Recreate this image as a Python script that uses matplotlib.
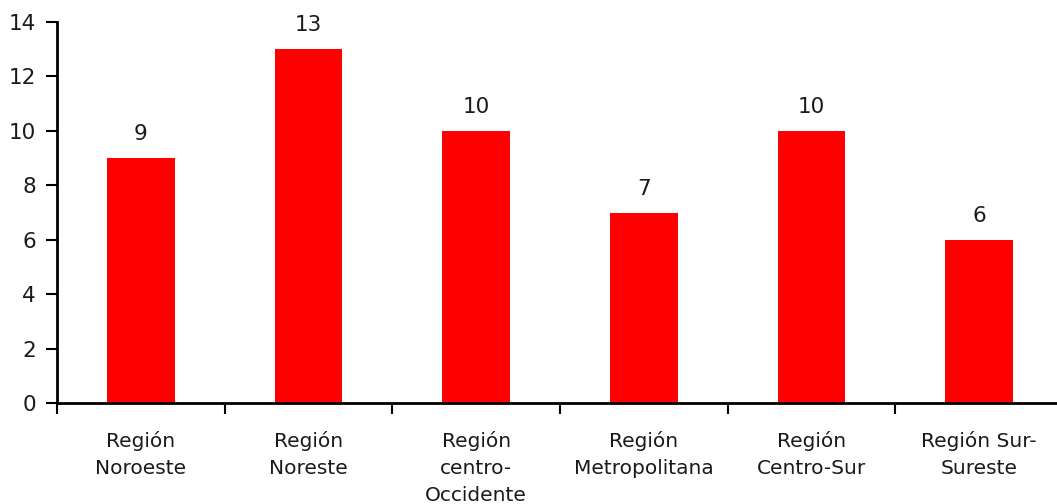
import matplotlib.pyplot as plt
import numpy as np

regions = ['Región\nNoroeste', 'Región\nNoreste', 'Región\ncentro-\nOccidente',
           'Región\nMetropolitana', 'Región\nCentro-Sur', 'Región Sur-\nSureste']
values = [9, 13, 10, 7, 10, 6]

plt.rcParams['font.family'] = ['DejaVu Sans']

fig = plt.figure(figsize=(10.57, 5.04), dpi=100)
ax = fig.add_axes([57 / 1057, 101 / 504, 1006 / 1057, 381 / 504])

x = np.arange(len(values))
bars = ax.bar(x, values, width=0.405, color='#ff0000')

for xi, v in zip(x, values):
    ax.annotate(str(v), (xi, v), xytext=(0, 10), textcoords='offset points',
                ha='center', va='bottom', fontsize=15.5, color='#1a1a1a')

ax.set_xlim(-0.5, len(values) - 0.5)
ax.set_ylim(0, 14)
ax.set_yticks(range(0, 15, 2))
ax.set_xticks(np.arange(-0.5, len(values), 1.0))
ax.set_xticklabels([])
ax.set_xticks(x, minor=True)
ax.set_xticklabels(regions, minor=True, fontsize=14.5, color='#1a1a1a', linespacing=1.55)
ax.tick_params(axis='x', which='minor', length=0, pad=20)
ax.tick_params(axis='x', which='major', length=8, width=1.5, direction='out')
ax.tick_params(axis='y', length=8, width=1.5, labelsize=15.5, labelcolor='#1a1a1a', pad=7)

for s in ['top', 'right']:
    ax.spines[s].set_visible(False)
for s in ['left', 'bottom']:
    ax.spines[s].set_linewidth(2)

fig.savefig('out.png', dpi=100)
